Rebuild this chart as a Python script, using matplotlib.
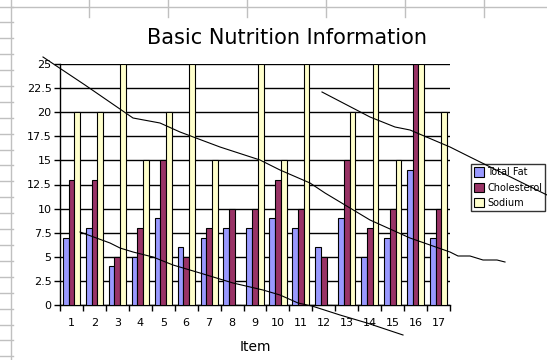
import numpy as np
import matplotlib.pyplot as plt
from matplotlib.lines import Line2D
from matplotlib.patches import Patch

# donnees
items = [str(i) for i in range(1, 18)]
total_fat = [7, 8, 4, 5, 9, 6, 7, 8, 8, 9, 8, 6, 9, 5, 7, 14, 7]
cholesterol = [13, 13, 5, 8, 15, 5, 8, 10, 10, 13, 10, 5, 15, 8, 10, 25, 10]
sodium = [20, 20, 25, 15, 20, 25, 15, 0, 25, 15, 25, 0, 20, 25, 15, 25, 20]
yticks = np.arange(0, 25.1, 2.5)
ytick_labels = ['0', '2.5', '5', '7.5', '10', '12.5', '15', '17.5', '20', '22.5', '25']

# traits a main levee (pixels, y depuis le haut)
stroke_a = [(43, 57), (85, 85), (133, 118), (160, 123), (180, 132), (220, 147), (260, 160),
            (280, 170), (310, 183), (325, 193), (370, 220), (410, 238), (450, 252),
            (458, 256), (470, 256), (483, 260), (497, 260), (505, 262)]
stroke_b = [(322, 92), (370, 117), (395, 127), (410, 130), (450, 147), (470, 157), (547, 195)]
stroke_c = [(80, 232), (110, 243), (120, 248), (133, 252), (153, 257), (173, 265), (200, 273),
            (233, 283), (263, 290), (280, 295), (298, 303), (312, 306), (340, 315),
            (367, 323), (403, 335)]

W, H = 547, 360
fig = plt.figure(figsize=(W / 100, H / 100), dpi=100)
fig.patch.set_facecolor('white')

def px(points):
    xs = [p[0] / W for p in points]
    ys = [1 - p[1] / H for p in points]
    return xs, ys

# fond tableur
grey = '#c0c0c0'
fig.add_artist(Line2D([11 / W, 11 / W], [0, 1], color=grey, lw=1))
fig.add_artist(Line2D([11 / W, 1], [1 - 6.5 / H, 1 - 6.5 / H], color=grey, lw=1))
for x in [89, 168, 247, 326, 405, 484]:
    fig.add_artist(Line2D([x / W, x / W], [1, 1 - 17 / H], color=grey, lw=1))
for y in np.arange(6.5, 360, 15.9):
    fig.add_artist(Line2D([0, 13 / W], [1 - y / H, 1 - y / H], color=grey, lw=1))

ax = fig.add_axes([60 / W, 1 - 305 / H, 390 / W, 241 / H])
x = np.arange(len(items))
w = 0.25
ax.bar(x - w, total_fat, w, color='#9999ff', edgecolor='black', lw=0.8, zorder=3)
ax.bar(x, cholesterol, w, color='#993366', edgecolor='black', lw=0.8, zorder=3)
ax.bar(x + w, sodium, w, color='#ffffcc', edgecolor='black', lw=0.8, zorder=3)

ax.set_xlim(-0.5, len(items) - 0.5)
ax.set_ylim(0, 25)
ax.set_yticks(yticks)
ax.set_yticklabels(ytick_labels, fontsize=8)
ax.yaxis.grid(True, color='black', lw=1, zorder=1)
ax.set_xticks(x)
ax.set_xticklabels(items, fontsize=8)
ax.set_xticks(np.arange(-0.5, len(items), 1), minor=True)
ax.tick_params(axis='x', which='major', length=0, pad=9)
ax.tick_params(axis='x', which='minor', length=4, width=1)
ax.tick_params(axis='y', length=4, width=1, pad=2)
for s in ['top', 'right']:
    ax.spines[s].set_visible(False)
ax.spines['left'].set_linewidth(1)
ax.spines['bottom'].set_linewidth(1)
ax.set_axisbelow(True)
ax.set_xlabel('Item', fontsize=10, labelpad=9)

fig.text(287 / W, 1 - 38 / H, 'Basic Nutrition Information', fontsize=15,
         ha='center', va='center')

handles = [Patch(facecolor='#9999ff', edgecolor='black', lw=0.8),
           Patch(facecolor='#993366', edgecolor='black', lw=0.8),
           Patch(facecolor='#ffffcc', edgecolor='black', lw=0.8)]
leg = fig.legend(handles, ['Total Fat', 'Cholesterol', 'Sodium'], fontsize=7,
                 loc='upper left', bbox_to_anchor=(471 / W, 1 - 164 / H),
                 frameon=True, fancybox=False, edgecolor='black',
                 handlelength=1.0, handleheight=1.1, handletextpad=0.3,
                 borderpad=0.35, labelspacing=0.55, borderaxespad=0)
leg.get_frame().set_linewidth(1)

for stroke in [stroke_a, stroke_b, stroke_c]:
    xs, ys = px(stroke)
    fig.add_artist(Line2D(xs, ys, color='black', lw=0.8, zorder=10))

fig.savefig('out.png', dpi=100)
